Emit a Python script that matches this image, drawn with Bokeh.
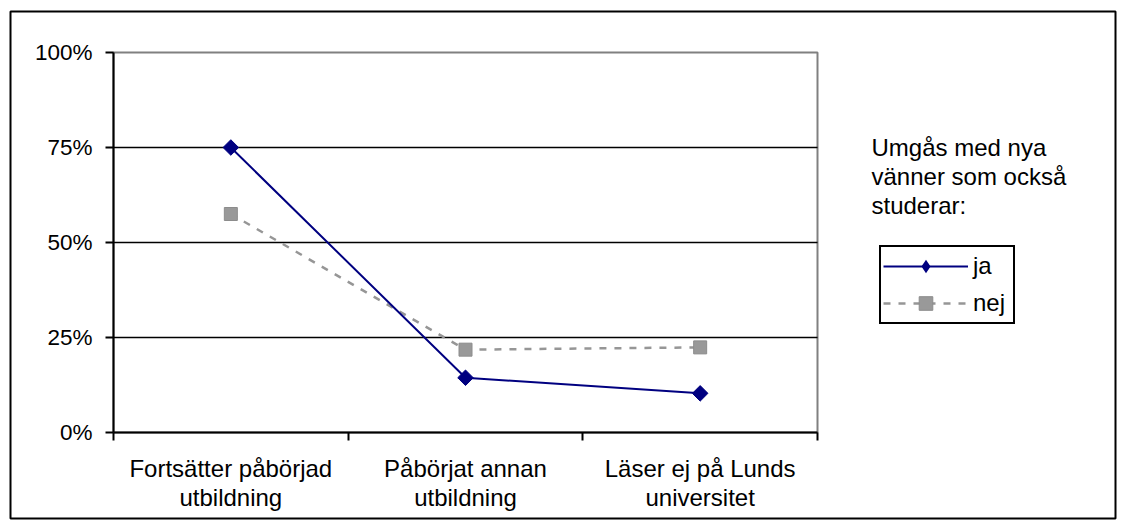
from bokeh.plotting import figure
from bokeh.models import (Range1d, FixedTicker, NumeralTickFormatter, Legend, LegendItem, Label,
                          LinearAxis, Grid, BoxAnnotation)
from bokeh.embed import file_html
from bokeh.resources import INLINE
import numpy as np

categories = ["Fortsätter påbörjad\nutbildning", "Påbörjat annan\nutbildning", "Läser ej på Lunds\nuniversitet"]
ja = [0.75, 0.144, 0.103]
nej = [0.575, 0.218, 0.224]
y_ticks = [0, 0.25, 0.5, 0.75, 1.0]
grid_ticks = [0.25, 0.5, 0.75]
legend_title = ["Umgås med nya", "vänner som också", "studerar:"]

n = len(categories)
xs = [i + 0.5 for i in range(n)]

FONT = "Liberation Sans"
FS = "24px"
FS_Y = "22.5px"
NAVY = "#000080"
GRAY = "#969696"

# layout (pixels): outer chart box and inner plot area
OUT_L, OUT_R, OUT_T, OUT_B = 10, 1115, 11, 518
PA_L, PA_R, PA_T, PA_B = 113, 817, 52, 432
ppx = (PA_R - PA_L) / n       # pixels per x unit
ppy = (PA_B - PA_T) / 1.0     # pixels per y unit
x0 = -(PA_L - OUT_L) / ppx
x1 = n + (OUT_R - PA_R) / ppx
y0 = -(OUT_B - PA_B) / ppy
y1 = 1.0 + (PA_T - OUT_T) / ppy

p = figure(width=OUT_R + 4, height=OUT_B + 5, output_backend="svg", toolbar_location=None,
           x_range=Range1d(x0, x1), y_range=Range1d(y0, y1),
           x_axis_type=None, y_axis_type=None,
           min_border_left=OUT_L, min_border_right=4, min_border_top=OUT_T, min_border_bottom=5,
           background_fill_color="white", border_fill_color="white")
p.outline_line_color = "black"
p.outline_line_width = 2
p.outline_line_alpha = 1

# plot-area border (gray, visible on top and right)
p.add_layout(BoxAnnotation(left=0, right=n, bottom=0, top=1, fill_alpha=0, fill_color=None,
                           line_color="#808080", line_alpha=1, line_width=2, level="underlay"))

# horizontal gridlines limited to plot area
try:
    g = Grid(dimension=1, ticker=FixedTicker(ticks=grid_ticks), cross_bounds=(0, n),
             grid_line_color="black", grid_line_width=1.5, grid_line_alpha=1)
    p.add_layout(g, "center")
except AttributeError:
    p.segment(x0=[0] * len(grid_ticks), x1=[n] * len(grid_ticks), y0=grid_ticks, y1=grid_ticks,
              line_color="black", line_width=1.5)

# y axis
ya = LinearAxis(fixed_location=0, bounds=(0, 1))
ya.ticker = FixedTicker(ticks=y_ticks)
ya.formatter = NumeralTickFormatter(format="0%")
ya.axis_line_color = "black"
ya.axis_line_width = 2
ya.major_tick_out = 8
ya.major_tick_in = 0
ya.major_tick_line_width = 2
ya.minor_tick_out = 0
ya.minor_tick_in = 0
ya.major_label_standoff = 13
ya.major_label_text_font = FONT
ya.major_label_text_font_size = FS_Y
ya.major_label_text_color = "black"
p.add_layout(ya, "left")

# x axis
xa = LinearAxis(fixed_location=0, bounds=(0, n))
xa.ticker = FixedTicker(ticks=xs, minor_ticks=list(range(n + 1)))
xa.major_label_overrides = {x: c for x, c in zip(xs, categories)}
xa.axis_line_color = "black"
xa.axis_line_width = 2
xa.major_tick_out = 0
xa.major_tick_in = 0
xa.minor_tick_out = 8
xa.minor_tick_in = 0
xa.minor_tick_line_color = "black"
xa.minor_tick_line_width = 2
xa.major_label_standoff = 14
xa.major_label_text_font = FONT
xa.major_label_text_font_size = FS
xa.major_label_text_color = "black"
xa.major_label_text_line_height = 1.1
p.add_layout(xa, "below")

# series
r_nej_l = p.line(xs, nej, line_color=GRAY, line_width=2.5, line_dash="7 8")
r_nej_m = p.scatter(xs, nej, marker="square", size=13, fill_color="#999999", line_color="#8c8c8c")
r_ja_l = p.line(xs, ja, line_color=NAVY, line_width=2)
# diamond used as legend key (hidden underneath the rotated squares in the plot)
r_ja_key = p.scatter(xs, ja, marker="diamond", size=14, fill_color=NAVY, line_color=None)
r_ja_m = p.scatter(xs, ja, marker="square", angle=np.pi / 4, size=11, fill_color=NAVY, line_color=NAVY)

legend = Legend(items=[LegendItem(label="ja", renderers=[r_ja_l, r_ja_key]),
                       LegendItem(label="nej", renderers=[r_nej_l, r_nej_m])],
                location=(879 - OUT_L, OUT_B - 324), orientation="vertical")
legend.border_line_color = "black"
legend.border_line_alpha = 1
legend.border_line_width = 2
legend.background_fill_color = "white"
legend.background_fill_alpha = 1
legend.label_text_font = FONT
legend.label_text_font_size = FS
legend.label_text_color = "black"
legend.glyph_width = 85
legend.glyph_height = 34
legend.label_height = 34
legend.label_width = 38
legend.label_standoff = 5
legend.padding = 2
legend.spacing = 3
legend.margin = 0
p.add_layout(legend, "center")

# legend title text, right of plot area
for i, t in enumerate(legend_title):
    p.add_layout(Label(x=(871 - PA_L) / ppx, y=(PA_B - (147 + 29 * i)) / ppy, text=t,
                       text_font=FONT, text_font_size=FS, text_color="black",
                       text_baseline="alphabetic"))

open("out.html", "w").write(file_html(p, INLINE))
